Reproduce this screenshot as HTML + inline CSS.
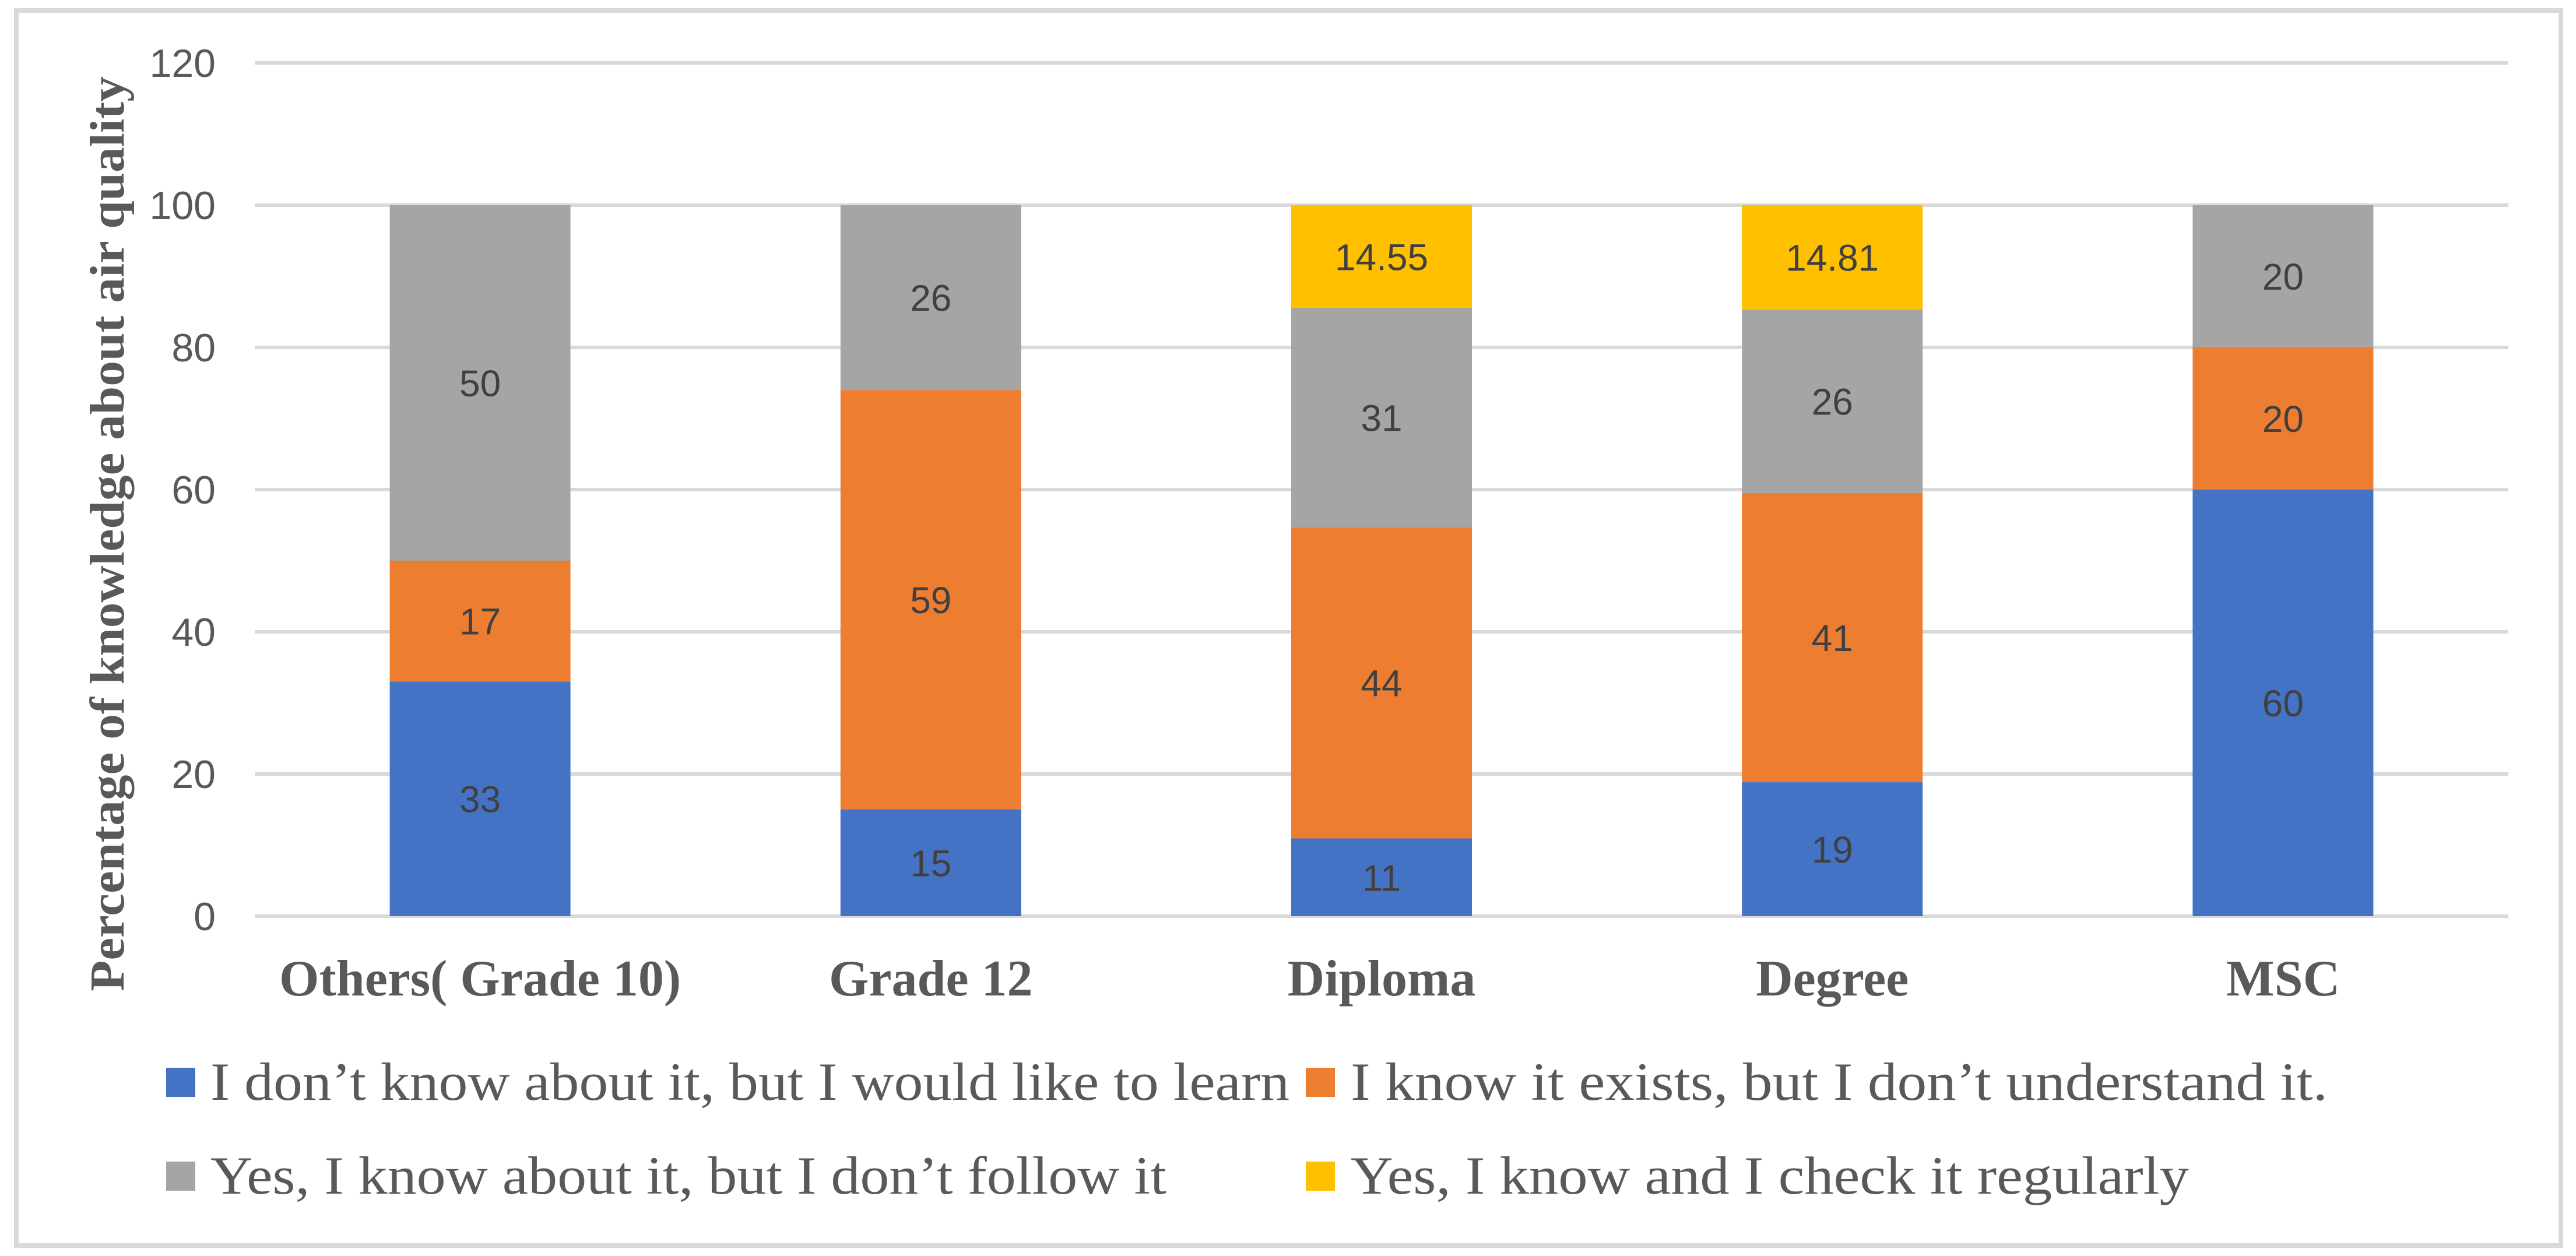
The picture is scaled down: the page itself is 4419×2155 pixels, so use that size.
<!DOCTYPE html>
<html><head><meta charset="utf-8"><style>
html,body{margin:0;padding:0;background:#fff}
svg{display:block}
</style></head><body>
<svg id="chart" width="4419" height="2155" viewBox="0 0 4419 2155" xmlns="http://www.w3.org/2000/svg">
<rect x="28" y="18" width="4365" height="2119" fill="#fff" stroke="#d9d9d9" stroke-width="8"/>
<g id="grid"></g>
<g id="bars"></g>
<g id="yticks"></g>
<g id="xlabels"></g>
<text transform="translate(212,916) rotate(-90)" text-anchor="middle" font-family="Liberation Serif, serif" font-weight="bold" font-size="84" fill="#595959" textLength="1570" lengthAdjust="spacingAndGlyphs">Percentage of knowledge about air quality</text>
<g id="legend"></g>
</svg>
<script>
const categories = ["Others( Grade 10)", "Grade 12", "Diploma", "Degree", "MSC"];
const seriesNames = ["I don\u2019t know about it, but I would like to learn", "I know it exists, but I don\u2019t understand it.", "Yes, I know about it, but I don\u2019t follow it", "Yes, I know and I check it regularly"];
const seriesColors = ["#4472c4", "#ed7d31", "#a5a5a5", "#ffc000"];
const learnValues = [33, 15, 11, 19, 60];
const existsValues = [17, 59, 44, 41, 20];
const notFollowValues = [50, 26, 31, 26, 20];
const checkValues = [0, 0, 14.55, 14.81, 0];
const yTicks = [0, 20, 40, 60, 80, 100, 120];

const NS = "http://www.w3.org/2000/svg";
const plotL = 437, plotR = 4303, y0 = 1572, yTop = 108, yMax = 120;
const yScale = v => y0 - v * (y0 - yTop) / yMax;
const band = (plotR - plotL) / categories.length;
const xCenter = i => plotL + band * (i + 0.5);
const barW = 310;
function mk(tag, attrs, parent, text) {
  const e = document.createElementNS(NS, tag);
  for (const k in attrs) e.setAttribute(k, attrs[k]);
  if (text !== undefined) e.textContent = text;
  parent.appendChild(e);
  return e;
}
const grid = document.getElementById('grid');
const yt = document.getElementById('yticks');
yTicks.forEach(t => {
  const l = mk('line', {x1: plotL, x2: plotR, y1: yScale(t), y2: yScale(t), stroke: '#d9d9d9', 'stroke-width': 6}, grid);
  
  
  const tx = mk('text', {x: 370, y: yScale(t) + 24, 'text-anchor': 'end', 'font-family': 'Liberation Sans, sans-serif', 'font-size': 68, fill: '#595959'}, yt, String(t));
  
  
});
const bars = document.getElementById('bars');
const allSeries = [learnValues, existsValues, notFollowValues, checkValues];
categories.forEach((c, i) => {
  let total = 0;
  allSeries.forEach(s => { total += s[i]; });
  const k = total > 100 ? 100 / total : 1;
  let base = 0;
  allSeries.forEach((s, si) => {
    const v = s[i];
    if (!v) return;
    const yA = yScale((base + v) * k), yB = yScale(base * k);
    const r = mk('rect', {x: xCenter(i) - barW / 2, y: yA, width: barW, height: yB - yA, fill: seriesColors[si]}, bars);
    
    
    const lb = mk('text', {x: xCenter(i), y: (yA + yB) / 2 + 23, 'text-anchor': 'middle', 'font-family': 'Liberation Sans, sans-serif', 'font-size': 64, fill: '#404040'}, bars, String(v));
    
    
    base += v;
  });
  const xl = mk('text', {x: xCenter(i), y: 1708, 'text-anchor': 'middle', 'font-family': 'Liberation Serif, serif', 'font-weight': 'bold', 'font-size': 88, fill: '#595959'}, document.getElementById('xlabels'), c);
  
  
});
const legend = document.getElementById('legend');
const legPos = [[285, 1832, 361, 1851], [2240, 1832, 2317, 1676], [285, 1993, 361, 1640], [2240, 1993, 2317, 1438]];
seriesNames.forEach((n, i) => {
  const p = legPos[i];
  const m = mk('rect', {x: p[0], y: p[1], width: 50, height: 50, fill: seriesColors[i]}, legend);
  
  
  const t = mk('text', {x: p[2], y: p[1] + 55, 'font-family': 'Liberation Serif, serif', 'font-size': 92, fill: '#595959', textLength: p[3], lengthAdjust: 'spacingAndGlyphs'}, legend, n);
  
  
});
</script>
</body></html>
